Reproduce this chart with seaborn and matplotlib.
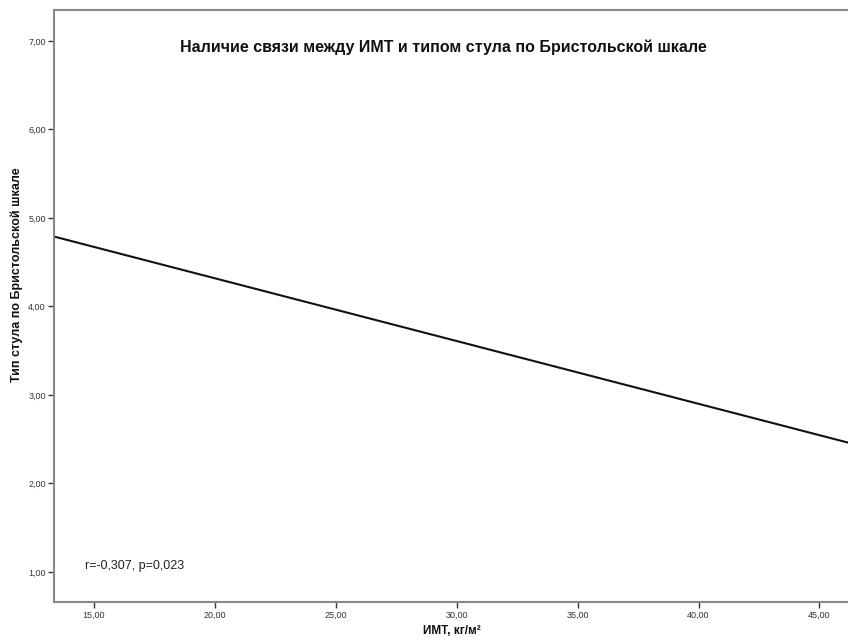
import numpy as np
import pandas as pd
import matplotlib
matplotlib.use('Agg')
import matplotlib.pyplot as plt
import seaborn as sns

# линия регрессии: ИМТ -> тип стула (концы прямой)
bmi = [13.35, 46.2]
stool_type = [4.79, 2.46]

x_ticks = [15, 20, 25, 30, 35, 40, 45]
y_ticks = [1, 2, 3, 4, 5, 6, 7]

title = "Наличие связи между ИМТ и типом стула по Бристольской шкале"
x_label = "ИМТ, кг/м²"
y_label = "Тип стула по Бристольской шкале"
stats_text = "r=-0,307, p=0,023"

sns.set_style('white')
plt.rcParams['font.family'] = ['Liberation Sans', 'DejaVu Sans']

df = pd.DataFrame({'bmi': bmi, 'stool': stool_type})

fig = plt.figure(figsize=(8.48, 6.38), dpi=100)
ax = fig.add_axes([54 / 848, 1 - 602 / 638, 1 - 54 / 848 + 0.002, (602 - 10) / 638])

sns.lineplot(data=df, x='bmi', y='stool', ax=ax, color='#111111', linewidth=1.5)

ax.set_xlim(13.35, 46.25)
ax.set_ylim(0.66, 7.35)
ax.set_xticks(x_ticks)
ax.set_yticks(y_ticks)
ax.set_xticklabels([f"{v:.2f}".replace('.', ',') for v in x_ticks])
ax.set_yticklabels([f"{v:.2f}".replace('.', ',') for v in y_ticks])
ax.tick_params(axis='both', labelsize=6.5, colors='#333333', length=4, width=1,
               direction='out', bottom=True, left=True, pad=2)

for side in ['left', 'bottom', 'top']:
    ax.spines[side].set_color('#888888')
    ax.spines[side].set_linewidth(1.5)
ax.spines['right'].set_visible(False)

ax.set_xlabel(x_label, fontsize=8.5, fontweight='bold', color='#111111')
ax.set_ylabel(y_label, fontsize=9, fontweight='bold', color='#111111')
ax.xaxis.set_label_coords((451 - 54) / (848 - 54), -(625 - 602) / 592)
ax.yaxis.set_label_coords(-(54 - 23) / 794, (602 - 275) / 592)

fig.text(443 / 848, 1 - 47 / 638, title, ha='center', va='center',
         fontsize=11.5, fontweight='bold', color='#111111')
ax.text(14.65, 1.07, stats_text, ha='left', va='center', fontsize=9, color='#222222')

fig.savefig('out.png', dpi=100)
